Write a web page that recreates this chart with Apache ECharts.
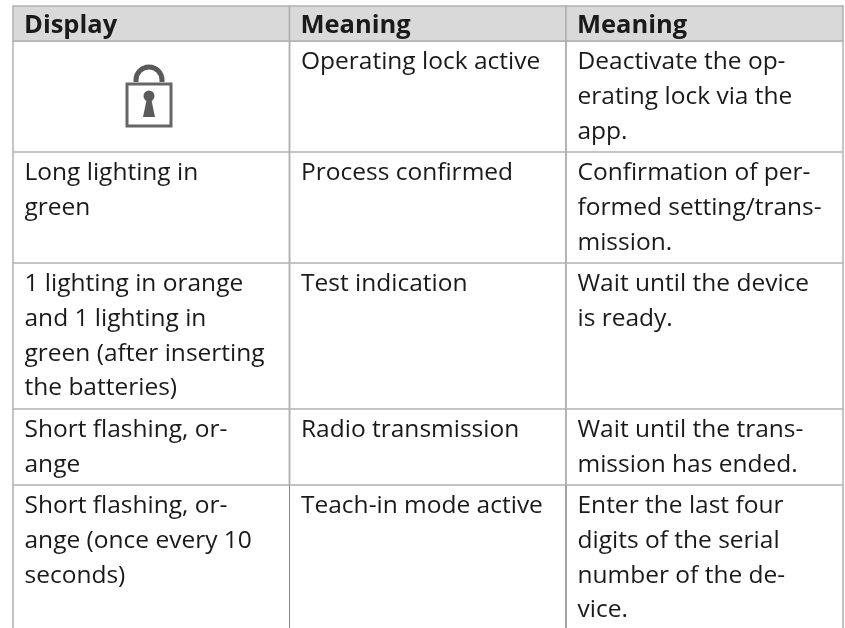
<!DOCTYPE html>
<html>
<head>
<meta charset="utf-8">
<style>
  html, body { margin: 0; padding: 0; background: #fff; }
  #main { width: 845px; height: 628px; }
</style>
</head>
<body>
<div id="main"></div>
<script src="https://cdn.jsdelivr.net/npm/echarts@6/dist/echarts.min.js"></script>
<script>
const headers = ['Display', 'Meaning', 'Meaning']
const displayCol = [
  [],
  ['Long lighting in', 'green'],
  ['1 lighting in orange', 'and 1 lighting in', 'green (after inserting', 'the batteries)'],
  ['Short flashing, or-', 'ange'],
  ['Short flashing, or-', 'ange (once every 10', 'seconds)'],
]
const meaningCol = [
  ['Operating lock active'],
  ['Process confirmed'],
  ['Test indication'],
  ['Radio transmission'],
  ['Teach-in mode active'],
]
const actionCol = [
  ['Deactivate the op-', 'erating lock via the', 'app.'],
  ['Confirmation of per-', 'formed setting/trans-', 'mission.'],
  ['Wait until the device', 'is ready.'],
  ['Wait until the trans-', 'mission has ended.'],
  ['Enter the last four', 'digits of the serial', 'number of the de-', 'vice.'],
]
// rows that hold the padlock icon instead of text: [col, row]
const iconCells = [[0, 0]]

const colEdges = [13, 289.5, 566, 843]
const headTop = 6
const headHeight = 35
const lineHeight = 34.6
const fontFamily = '"Open Sans", "Noto Sans", sans-serif'
const fontSize = 24.5
const headFontSize = 25.5

const columns = [displayCol, meaningCol, actionCol]
const rowLines = meaningCol.map((_, r) => Math.max(...columns.map((c) => c[r].length)))
const rowEdges = [headTop + headHeight]
rowLines.forEach((n) => rowEdges.push(rowEdges[rowEdges.length - 1] + n * 35 + 6))

const cells = []
columns.forEach((col, c) => col.forEach((lines, r) => cells.push([c, r])))

function line(x1, y1, x2, y2, stroke, width) {
  return { type: 'line', shape: { x1, y1, x2, y2 }, style: { stroke, lineWidth: width } }
}

function label(text, x, y, weight, size) {
  return {
    type: 'text',
    style: {
      text, x, y,
      fill: '#1a1a1a',
      fontFamily,
      fontSize: size,
      fontWeight: weight,
      verticalAlign: 'middle',
    },
  }
}

function renderHeader(params, api) {
  const c = api.value(0)
  const x0 = api.coord([colEdges[c], headTop])
  const x1 = api.coord([colEdges[c + 1], headTop + headHeight])
  return {
    type: 'group',
    children: [
      { type: 'rect', shape: { x: x0[0], y: x0[1], width: x1[0] - x0[0], height: x1[1] - x0[1] },
        style: { fill: '#d9d9d9', stroke: '#b0b0b0', lineWidth: 1.5 } },
      label(headers[c], x0[0] + 11, x0[1] + 20, 'bold', headFontSize),
    ],
  }
}

function renderCell(params, api) {
  const c = api.value(0)
  const r = api.value(1)
  const tl = api.coord([colEdges[c], rowEdges[r]])
  const br = api.coord([colEdges[c + 1], rowEdges[r + 1]])
  const last = r === rowLines.length - 1
  const vColor = last ? '#858585' : '#b0b0b0'
  const vWidth = last ? 1 : 1.5
  const children = [
    line(tl[0], tl[1], tl[0], br[1], vColor, vWidth),
    line(br[0], tl[1], br[0], br[1], vColor, vWidth),
    line(tl[0], tl[1], br[0], tl[1], '#b0b0b0', 1.5),
  ]
  columns[c][r].forEach((t, i) => {
    children.push(label(t, tl[0] + 11.5, tl[1] + 21.5 + i * lineHeight, 'normal', fontSize))
  })
  return { type: 'group', children }
}

function renderLock(params, api) {
  const c = api.value(0)
  const r = api.value(1)
  const tl = api.coord([colEdges[c], rowEdges[r]])
  const cx = tl[0] + 136
  const top = tl[1]
  const grey = '#5a5a5a'
  return {
    type: 'group',
    children: [
      { type: 'arc', shape: { cx, cy: top + 39, r: 13, startAngle: Math.PI, endAngle: 0 },
        style: { fill: 'none', stroke: grey, lineWidth: 5 } },
      line(cx - 13, top + 39, cx - 13, top + 41, grey, 5),
      line(cx + 13, top + 39, cx + 13, top + 41, grey, 5),
      { type: 'rect', shape: { x: cx - 22, y: top + 43, width: 44, height: 42 },
        style: { fill: '#fff', stroke: '#666', lineWidth: 3 } },
      { type: 'circle', shape: { cx, cy: top + 55, r: 5.5 }, style: { fill: grey } },
      { type: 'polygon', shape: { points: [[cx - 2, top + 57], [cx + 2, top + 57], [cx + 6, top + 76], [cx - 6, top + 76]] },
        style: { fill: grey } },
    ],
  }
}

const chart = echarts.init(document.getElementById('main'), null, { renderer: 'canvas' })
chart.setOption({
  animation: false,
  backgroundColor: '#fff',
  grid: { left: 0, right: 0, top: 0, bottom: 0 },
  xAxis: { type: 'value', min: 0, max: 845, show: false },
  yAxis: { type: 'value', min: 0, max: 628, inverse: true, show: false },
  series: [
    { type: 'custom', coordinateSystem: 'cartesian2d', data: cells, renderItem: renderCell, clip: true, silent: true },
    { type: 'custom', coordinateSystem: 'cartesian2d', data: headers.map((_, i) => [i, 0]), renderItem: renderHeader, silent: true },
    { type: 'custom', coordinateSystem: 'cartesian2d', data: iconCells, renderItem: renderLock, silent: true },
  ],
})
</script>
</body>
</html>
